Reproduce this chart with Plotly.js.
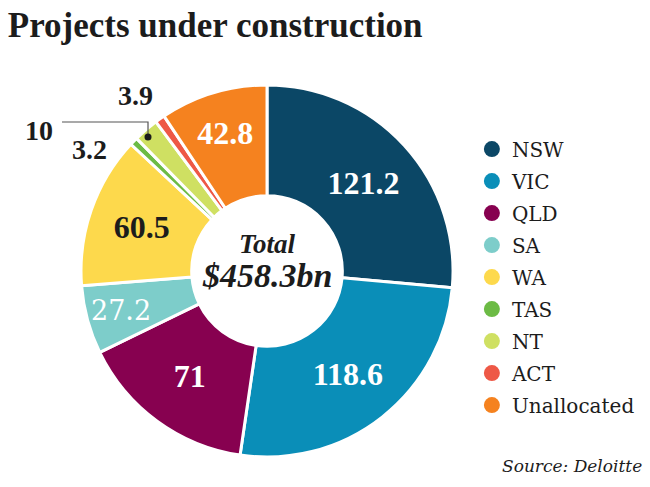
<!DOCTYPE html>
<html><head><meta charset="utf-8">
<script src="https://cdn.plot.ly/plotly-3.0.1.min.js"></script>
<style>html,body{margin:0;padding:0;background:#fff}#chart{width:650px;height:487px}</style>
</head><body><div id="chart"></div>
<script>
// ---- data ----
const regions = ['NSW','VIC','QLD','SA','WA','TAS','NT','ACT','Unallocated'];
const values = [121.2, 118.6, 71, 27.2, 60.5, 3.2, 10, 3.9, 42.8];
const colors = ['#0b4766','#0a8eb8','#870150','#7dcdca','#fdd94c','#6cbb45','#cfe062','#ee5846','#f5821f'];
const labelColors = ['#ffffff','#ffffff','#ffffff','#ffffff','#1c1c1c','#1c1c1c','#1c1c1c','#1c1c1c','#ffffff'];
const titleText = 'Projects under construction';
const totalLabel = 'Total';
const totalValue = '$458.3bn';
const sourceText = 'Source: Deloitte';

const SERIF = 'Liberation Serif';
const SERIF_REG = 'DejaVu Serif';
const INK = '#1c1c1c';

const annotated = ['SA', 'TAS', 'NT', 'ACT'];
const insideText = values.map((v, i) => annotated.indexOf(regions[i]) === -1 ? String(v) : '');

const pie = {
  type: 'pie',
  labels: regions,
  values: values,
  text: insideText,
  textinfo: 'text',
  textposition: 'inside',
  insidetextorientation: 'horizontal',
  textfont: {family: SERIF, size: 32, weight: 'bold', color: labelColors},
  marker: {colors: colors, line: {color: '#ffffff', width: 3}},
  sort: false,
  direction: 'clockwise',
  rotation: 0,
  hole: 0.405,
  domain: {x: [0.1246, 0.697], y: [0.0616, 0.8255]},
  showlegend: false,
  hoverinfo: 'label+value'
};

const legendTraces = regions.map((r, i) => ({
  type: 'scatter', mode: 'markers', x: [null], y: [null], name: r, legendgroup: 'g' + i,
  marker: {color: colors[i], size: 20, symbol: 'circle'},
  showlegend: true, hoverinfo: 'skip'
}));

const idx = n => regions.indexOf(n);
const ann = (text, x, y, size, color, family, extra) => Object.assign({
  text: text, x: x, y: y, xref: 'paper', yref: 'paper', xanchor: 'center', yanchor: 'middle',
  showarrow: false, font: {family: family, size: size, color: color}
}, extra || {});

const annotations = [
  ann('<i><b>' + totalLabel + '</b></i>', 0.4108, 0.500, 27, INK, SERIF),
  ann('<i><b>' + totalValue + '</b></i>', 0.4108, 0.434, 34, INK, SERIF),
  ann(String(values[idx('SA')]), 0.186, 0.363, 27, '#ffffff', SERIF_REG),
  ann('<b>' + values[idx('ACT')] + '</b>', 0.2077, 0.803, 28, INK, SERIF),
  ann('<b>' + values[idx('NT')] + '</b>', 0.06, 0.733, 28, INK, SERIF),
  ann('<b>' + values[idx('TAS')] + '</b>', 0.138, 0.692, 28, INK, SERIF),
  ann('<i>' + sourceText + '</i>', 0.99, 0.043, 17, INK, SERIF_REG, {xanchor: 'right'})
];

const shapes = [
  {type: 'path', xref: 'paper', yref: 'paper', path: 'M 0.0954 0.7495 L 0.2277 0.7495 L 0.2277 0.7187',
   line: {color: '#555555', width: 1.2}},
  {type: 'circle', xref: 'paper', yref: 'paper', x0: 0.2223, x1: 0.2331, y0: 0.7115, y1: 0.7259,
   fillcolor: '#1c1c1c', line: {width: 0}}
];

const layout = {
  width: 650, height: 487,
  margin: {l: 0, r: 0, t: 0, b: 0},
  paper_bgcolor: '#ffffff', plot_bgcolor: '#ffffff',
  title: {text: '<b>' + titleText + '</b>', x: 0.012, xanchor: 'left', xref: 'paper', y: 0.95, yanchor: 'middle', yref: 'container',
          font: {family: SERIF, size: 35, color: INK}},
  xaxis: {visible: false}, yaxis: {visible: false},
  showlegend: true,
  legend: {x: 0.726, xanchor: 'left', y: 0.734, yanchor: 'top', font: {family: SERIF_REG, size: 20, color: INK},
           bgcolor: 'rgba(0,0,0,0)', borderwidth: 0, itemsizing: 'trace', tracegroupgap: 3},
  annotations: annotations,
  shapes: shapes
};

Plotly.newPlot('chart', [pie].concat(legendTraces), layout, {displayModeBar: false, staticPlot: true});
</script>
</body></html>
